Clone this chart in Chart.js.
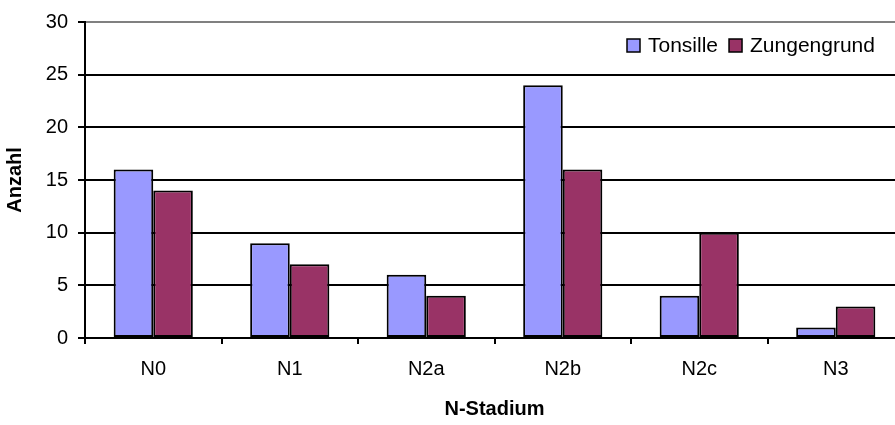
<!DOCTYPE html>
<html>
    <head>
        <title>N-Stadium</title>
        <meta charset="utf-8">
        <script src="https://cdn.jsdelivr.net/npm/chart.js"></script>
        <style>
            html, body { margin: 0; padding: 0; background: #fff; overflow: hidden; }
            #wrap { width: 905px; height: 425px; position: relative; }
        </style>
    </head>
    <body>
        <div id="wrap">
            <canvas id="canvas"></canvas>
        </div>
        <script>
            var stadien = ["N0", "N1", "N2a", "N2b", "N2c", "N3"];
            var tonsille = [16, 9, 6, 24, 4, 1];
            var zungengrund = [14, 7, 4, 16, 10, 3];
            var yTicks = [0, 5, 10, 15, 20, 25, 30];

            var schrift = "Arial, 'Liberation Sans', sans-serif";
            var groesse = 20;

            // Legende oben rechts im Diagrammbereich
            var legende = {
                id: 'legende',
                afterDraw: function (chart) {
                    var ctx = chart.ctx;
                    var x = 627, y = 39, box = 13;
                    ctx.save();
                    ctx.font = "21px " + schrift;
                    ctx.textBaseline = 'middle';
                    chart.data.datasets.forEach(function (ds) {
                        ctx.fillStyle = ds.backgroundColor;
                        ctx.fillRect(x, y, box, box);
                        ctx.lineWidth = 1.5;
                        ctx.strokeStyle = '#000';
                        ctx.strokeRect(x, y, box, box);
                        ctx.fillStyle = '#000';
                        ctx.fillText(ds.label, x + box + 8, y + box / 2 + 1);
                        x += box + 8 + ctx.measureText(ds.label).width + 11;
                    });
                    ctx.restore();
                }
            };

            var ctx = document.getElementById('canvas').getContext('2d');
            var chart = new Chart(ctx, {
                type: 'bar',
                data: {
                    labels: stadien,
                    datasets: [
                        {
                            label: "Tonsille",
                            data: tonsille,
                            backgroundColor: "#9999FF",
                            borderColor: "#000",
                            borderWidth: 2,
                            borderSkipped: false
                        },
                        {
                            label: "Zungengrund",
                            data: zungengrund,
                            backgroundColor: "#993366",
                            borderColor: "#000",
                            borderWidth: 2,
                            borderSkipped: false
                        }
                    ]
                },
                plugins: [legende],
                options: {
                    responsive: true,
                    maintainAspectRatio: false,
                    animation: false,
                    layout: { padding: { top: 19, right: 1, left: 0, bottom: 0 } },
                    datasets: {
                        bar: { categoryPercentage: 0.58, barPercentage: 1 }
                    },
                    plugins: {
                        legend: { display: false },
                        tooltip: { enabled: false }
                    },
                    scales: {
                        x: {
                            afterFit: function (s) { s.height = 87; },
                            grid: {
                                display: true,
                                drawOnChartArea: false,
                                drawTicks: true,
                                tickLength: 6,
                                color: '#000',
                                lineWidth: 2
                            },
                            border: { display: true, color: '#000', width: 2 },
                            ticks: {
                                color: '#000',
                                padding: 13,
                                font: { family: schrift, size: groesse }
                            },
                            title: {
                                display: true,
                                text: "N-Stadium",
                                color: '#000',
                                padding: { top: 0, bottom: 4 },
                                font: { family: schrift, size: groesse, weight: 'bold' }
                            }
                        },
                        y: {
                            min: 0,
                            max: 30,
                            afterFit: function (s) { s.width = 85; },
                            afterBuildTicks: function (s) {
                                s.ticks = yTicks.map(function (v) { return { value: v }; });
                            },
                            grid: {
                                color: function (c) { return c.tick && c.tick.value === 30 ? '#808080' : '#000'; },
                                tickColor: '#000',
                                lineWidth: 2,
                                tickLength: 7
                            },
                            border: { display: true, color: '#000', width: 2 },
                            ticks: {
                                color: '#000',
                                padding: 10,
                                font: { family: schrift, size: groesse }
                            },
                            title: {
                                display: true,
                                text: "Anzahl",
                                color: '#000',
                                padding: { top: 3, bottom: 0 },
                                font: { family: schrift, size: groesse, weight: 'bold' }
                            }
                        }
                    }
                }
            });
        </script>
    </body>
</html>
